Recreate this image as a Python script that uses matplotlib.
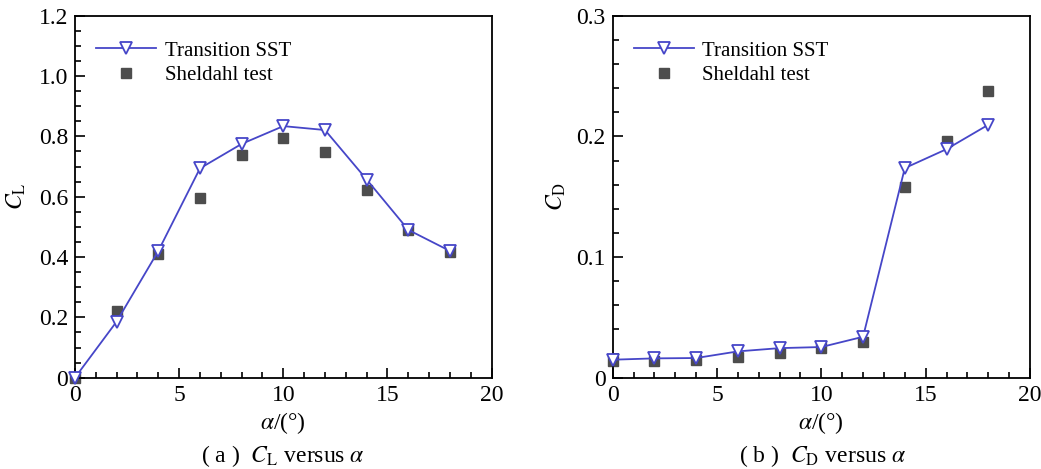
import matplotlib
matplotlib.use("Agg")
import matplotlib.pyplot as plt
from matplotlib.ticker import MultipleLocator

plt.rcParams['font.family'] = ['Liberation Serif', 'DejaVu Serif']
plt.rcParams['mathtext.fontset'] = 'stix'

# angle of attack (deg)
alpha = [0, 2, 4, 6, 8, 10, 12, 14, 16, 18]

# lift coefficient
cl_sst = [0.0, 0.186, 0.42, 0.694, 0.775, 0.834, 0.821, 0.657, 0.49, 0.42]
cl_test = [0.0, 0.221, 0.41, 0.596, 0.737, 0.796, 0.748, 0.622, 0.49, 0.418]

# drag coefficient
cd_sst = [0.0149, 0.016, 0.0163, 0.0218, 0.0245, 0.0254, 0.0339, 0.1737, 0.1894, 0.2096]
cd_test = [0.0135, 0.0138, 0.0146, 0.0171, 0.0207, 0.0243, 0.0295, 0.158, 0.196, 0.238]

blue = '#4646c8'
grey = '#4d4d4d'
fs = 17

fig = plt.figure(figsize=(10.41, 4.69), dpi=100)
ax1 = fig.add_axes([0.072, 0.1947, 0.4003, 0.7718])
ax2 = fig.add_axes([0.5886, 0.1947, 0.4008, 0.7718])

def style(ax, ymax, ymaj, ymin):
    ax.set_xlim(0, 20)
    ax.set_ylim(0, ymax)
    ax.xaxis.set_major_locator(MultipleLocator(5))
    ax.xaxis.set_minor_locator(MultipleLocator(1))
    ax.yaxis.set_major_locator(MultipleLocator(ymaj))
    ax.yaxis.set_minor_locator(MultipleLocator(ymin))
    ax.tick_params(which='both', direction='in', top=False, right=False, labelsize=fs, width=1.2)
    ax.tick_params(which='major', length=7, pad=5)
    ax.tick_params(which='minor', length=4)
    ax.yaxis.set_major_formatter(lambda v, p: '0' if abs(v) < 1e-9 else '%.1f' % v)
    for s in ax.spines.values():
        s.set_linewidth(1.3)
    ax.set_xlabel(r'$\alpha$/(°)', fontsize=fs, labelpad=3)

style(ax1, 1.2, 0.2, 0.05)
style(ax2, 0.3, 0.1, 0.02)

ax1.plot(alpha, cl_sst, color=blue, lw=1.3, marker='v', ms=8, mfc='white', mec=blue, mew=1.3,
         label='Transition SST', zorder=3, clip_on=False)
ax1.plot(alpha, cl_test, ls='none', marker='s', ms=6.5, color=grey, label='Sheldahl test', zorder=2, clip_on=False)
ax1.set_ylabel(r'$C_{\mathrm{L}}$', fontsize=fs, labelpad=8)

ax2.plot(alpha, cd_sst, color=blue, lw=1.3, marker='v', ms=8, mfc='white', mec=blue, mew=1.3,
         label='Transition SST', zorder=3, clip_on=False)
ax2.plot(alpha, cd_test, ls='none', marker='s', ms=6.5, color=grey, label='Sheldahl test', zorder=2, clip_on=False)
ax2.set_ylabel(r'$C_{\mathrm{D}}$', fontsize=fs, labelpad=6)

for ax in (ax1, ax2):
    ax.legend(loc='upper left', bbox_to_anchor=(-0.015, 1.005), frameon=False, fontsize=15,
              handlelength=2.9, handletextpad=0.4, labelspacing=0.25, borderaxespad=0.9)

fig.text(0.272, 0.015, r'( a )  $C_{\mathrm{L}}$ versus $\alpha$', fontsize=fs, ha='center')
fig.text(0.79, 0.015, r'( b )  $C_{\mathrm{D}}$ versus $\alpha$', fontsize=fs, ha='center')

fig.savefig('out.png', dpi=100)
